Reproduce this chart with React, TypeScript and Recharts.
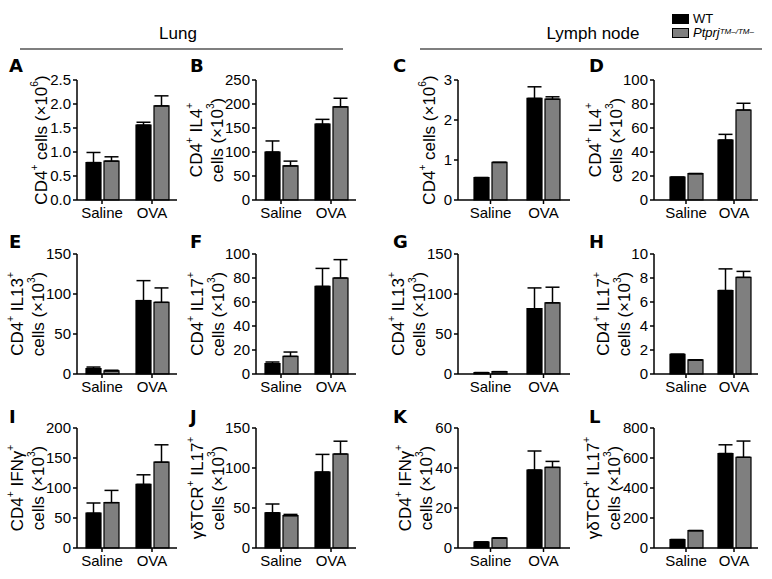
import React from 'react'
import { BarChart, Bar, XAxis, YAxis, ErrorBar, Legend } from 'recharts'

// groups on the x axis, series and panels
const groups = ['Saline', 'OVA']
const seriesNames = ['WT', 'Ptprj^TM–/TM–']
const seriesFill = ['#000000', '#7f7f7f']
const panelIds = ['A', 'B', 'C', 'D', 'E', 'F', 'G', 'H', 'I', 'J', 'K', 'L']
const sectionTitles = ['Lung', 'Lymph node']

// y axis titles, '^' marks the next character as superscript
const yLabels = [
    ['CD4^+ cells (×10^6)'],
    ['CD4^+ IL4^+', 'cells (×10^3)'],
    ['CD4^+ cells (×10^6)'],
    ['CD4^+ IL4^+', 'cells (×10^3)'],
    ['CD4^+ IL13^+', 'cells (×10^3)'],
    ['CD4^+ IL17^+', 'cells (×10^3)'],
    ['CD4^+ IL13^+', 'cells (×10^3)'],
    ['CD4^+ IL17^+', 'cells (×10^3)'],
    ['CD4^+ IFNγ^+', 'cells (×10^3)'],
    ['γδTCR^+ IL17^+', 'cells (×10^3)'],
    ['CD4^+ IFNγ^+', 'cells (×10^3)'],
    ['γδTCR^+ IL17^+', 'cells (×10^3)'],
]

const yTicks = [
    [0, 0.5, 1, 1.5, 2, 2.5],
    [0, 50, 100, 150, 200, 250],
    [0, 1, 2, 3],
    [0, 20, 40, 60, 80, 100],
    [0, 50, 100, 150],
    [0, 20, 40, 60, 80, 100],
    [0, 50, 100, 150],
    [0, 2, 4, 6, 8, 10],
    [0, 50, 100, 150, 200],
    [0, 50, 100, 150],
    [0, 20, 40, 60],
    [0, 200, 400, 600, 800],
]

// [Saline, OVA] per panel A..L
const wtMean = [
    [0.78, 1.56],
    [100, 158],
    [0.56, 2.54],
    [19, 50],
    [6.7, 91.7],
    [8.6, 73],
    [1.7, 81.6],
    [1.64, 6.96],
    [58, 106],
    [44, 95],
    [3, 39],
    [56, 630],
]
const wtErr = [
    [0.21, 0.06],
    [23, 10],
    [0, 0.29],
    [0, 4.7],
    [2, 25],
    [1.4, 15],
    [0, 26],
    [0, 1.8],
    [17, 16],
    [11, 22],
    [0, 9.5],
    [0, 58],
]
const koMean = [
    [0.81, 1.96],
    [71, 194],
    [0.94, 2.52],
    [22, 75],
    [3.8, 89.6],
    [14.7, 80],
    [2.9, 89],
    [1.17, 8.05],
    [75.6, 143],
    [40.4, 117.5],
    [5, 40.3],
    [116, 605],
]
const koErr = [
    [0.09, 0.21],
    [10, 18],
    [0, 0.06],
    [0, 5.6],
    [0.9, 18],
    [3.6, 15.3],
    [0, 19.5],
    [0, 0.5],
    [20.4, 29],
    [1.6, 16],
    [0, 3],
    [0, 108],
]

// layout
const FONT = '"Liberation Sans", Arial, Helvetica, sans-serif'
const PLOT_H = 120
const AXIS_W = 80
const TOP_PAD = 12
const colX = [77, 256, 458, 654]
const colW = [100, 100, 112, 104]
const colPad = [0, 0, 6, 8]
const rowTop = [80, 254, 428]
const labelGap = [36, 39, 29, 38, 39, 38, 39, 30, 39, 38, 32, 40]

function splitRich(str: string) {
    const segs: { t: string; sup: boolean }[] = []
    let buf = ''
    for (let i = 0; i < str.length; i++) {
        if (str[i] === '^' && i + 1 < str.length) {
            if (buf) segs.push({ t: buf, sup: false })
            buf = ''
            segs.push({ t: str[i + 1], sup: true })
            i++
        } else {
            buf += str[i]
        }
    }
    if (buf) segs.push({ t: buf, sup: false })
    return segs
}

function richTspans(str: string, size: number) {
    const rise = size * 0.4
    let prevSup = false
    return splitRich(str).map((s, k) => {
        let dy = 0
        if (s.sup && !prevSup) dy = -rise
        if (!s.sup && prevSup) dy = rise
        prevSup = s.sup
        return (
            <tspan key={k} dy={dy || undefined} fontSize={s.sup ? size * 0.6 : size}>
                {s.t}
            </tspan>
        )
    })
}

const YTitle = ({ viewBox, lines, gap }: any) => {
    const axisX = viewBox.x + viewBox.width
    const cy = viewBox.y + viewBox.height / 2
    return (
        <g>
            {lines.map((ln: string, k: number) => {
                const lx = axisX - gap - (lines.length - 1 - k) * 21
                return (
                    <text
                        key={k}
                        transform={`translate(${lx},${cy}) rotate(-90)`}
                        textAnchor="middle"
                        dominantBaseline="central"
                        fontFamily={FONT}
                        fontSize={17}
                        fill="#000"
                    >
                        {richTspans(ln, 17)}
                    </text>
                )
            })}
        </g>
    )
}

function splitRichLegend(name: string) {
    const idx = name.indexOf('^')
    if (idx < 0) return { base: name, sup: '' }
    return { base: name.slice(0, idx), sup: name.slice(idx + 1) }
}

const LegendBox = () => (
    <div style={{ fontFamily: FONT, fontSize: 13, color: '#000' }}>
        {seriesNames.map((name, k) => {
            const segs = splitRichLegend(name)
            return (
                <div
                    key={name}
                    style={{ display: 'flex', alignItems: 'center', height: 14, whiteSpace: 'nowrap' }}
                >
                    <span
                        style={{
                            display: 'inline-block',
                            width: 15,
                            height: 8,
                            background: seriesFill[k],
                            border: '1px solid #000',
                            marginRight: 4,
                        }}
                    />
                    <span style={{ fontStyle: k === 1 ? 'italic' : 'normal', lineHeight: '14px' }}>
                        {segs.base}
                        {segs.sup && (
                            <span style={{ fontSize: 8, position: 'relative', top: -3, lineHeight: 0 }}>{segs.sup}</span>
                        )}
                    </span>
                </div>
            )
        })}
    </div>
)

function Panel({ i }: { i: number }) {
    const col = i % 4
    const row = Math.floor(i / 4)
    const data = groups.map((g, j) => ({
        group: g,
        wt: wtMean[i][j],
        ko: koMean[i][j],
        wtE: [0, wtErr[i][j]],
        koE: [0, koErr[i][j]],
    }))
    const ticks = yTicks[i]
    const dec = ticks.some((t) => !Number.isInteger(t)) ? 1 : 0
    const width = AXIS_W + colW[col] + 8
    const height = TOP_PAD + PLOT_H + 40
    const tickStyle = { fontSize: 15, fill: '#000', fontFamily: FONT }
    return (
        <div style={{ position: 'absolute', left: colX[col] - AXIS_W, top: rowTop[row] - TOP_PAD }}>
            <BarChart
                width={width}
                height={height}
                data={data}
                margin={{ top: TOP_PAD, right: 8, bottom: 4, left: 0 }}
                barGap={3}
            >
                <XAxis
                    dataKey="group"
                    height={36}
                    padding={{ left: colPad[col], right: 0 }}
                    tick={tickStyle}
                    tickSize={4}
                    tickMargin={3}
                    axisLine={{ stroke: '#000', strokeWidth: 1.5 }}
                    tickLine={{ stroke: '#000', strokeWidth: 1.5 }}
                    interval={0}
                />
                <YAxis
                    width={AXIS_W}
                    domain={[0, ticks[ticks.length - 1]]}
                    ticks={ticks}
                    interval={0}
                    tickFormatter={(v: number) => v.toFixed(dec)}
                    tick={tickStyle}
                    tickSize={4}
                    tickMargin={2}
                    axisLine={{ stroke: '#000', strokeWidth: 1.5 }}
                    tickLine={{ stroke: '#000', strokeWidth: 1.5 }}
                    label={(p: any) => <YTitle viewBox={p.viewBox} lines={yLabels[i]} gap={labelGap[i]} />}
                />
                <Bar dataKey="wt" name={seriesNames[0]} fill={seriesFill[0]} stroke="#000" strokeWidth={1.2} barSize={15} isAnimationActive={false}>
                    <ErrorBar dataKey="wtE" direction="y" width={7} stroke="#000" strokeWidth={1.5} />
                </Bar>
                <Bar dataKey="ko" name={seriesNames[1]} fill={seriesFill[1]} stroke="#000" strokeWidth={1.2} barSize={15} isAnimationActive={false}>
                    <ErrorBar dataKey="koE" direction="y" width={7} stroke="#000" strokeWidth={1.5} />
                </Bar>
                {i === 3 && (
                    <Legend
                        layout="horizontal"
                        verticalAlign="middle"
                        align="center"
                        wrapperStyle={{ left: 98, top: -56, width: 110, height: 28 }}
                        content={<LegendBox />}
                    />
                )}
            </BarChart>
        </div>
    )
}

export default function App() {
    const letterX = [9, 190, 393, 589]
    const letterY = [72, 248, 423]
    return (
        <div style={{ position: 'absolute', left: 0, top: 0, width: 772, height: 579, background: '#fff' }}>
            <svg width={772} height={579} style={{ position: 'absolute', left: 0, top: 0 }}>
                <text x={178} y={39} textAnchor="middle" fontFamily={FONT} fontSize={17} fill="#000">
                    {sectionTitles[0]}
                </text>
                <line x1={20} x2={343} y1={49} y2={49} stroke="#000" strokeWidth={1.2} />
                <text x={593} y={39} textAnchor="middle" fontFamily={FONT} fontSize={17} fill="#000">
                    {sectionTitles[1]}
                </text>
                <line x1={420} x2={762} y1={49} y2={49} stroke="#000" strokeWidth={1.2} />
                {panelIds.map((id, i) => (
                    <text
                        key={id}
                        x={letterX[i % 4]}
                        y={letterY[Math.floor(i / 4)]}
                        fontFamily='"DejaVu Sans", sans-serif'
                        fontWeight={900}
                        fontSize={18}
                        fill="#000"
                    >
                        {id}
                    </text>
                ))}
            </svg>
            {panelIds.map((id, i) => (
                <Panel key={id} i={i} />
            ))}
        </div>
    )
}
